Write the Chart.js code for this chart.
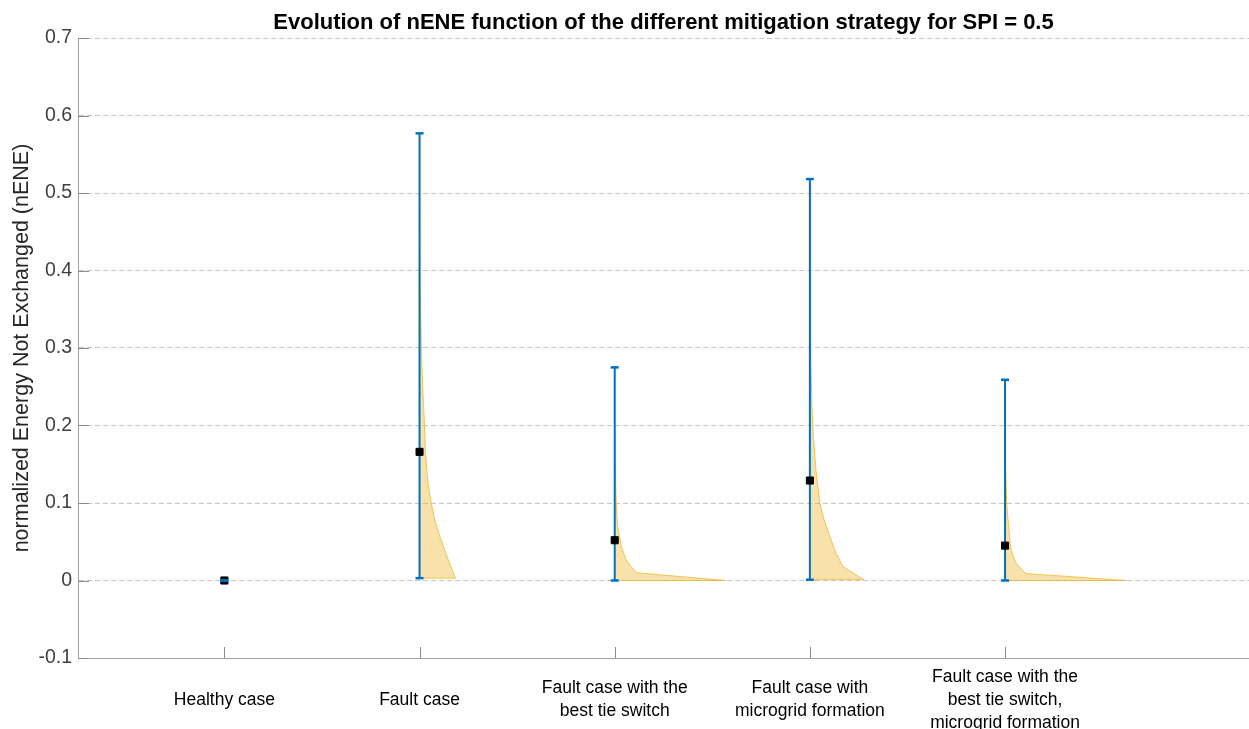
<!DOCTYPE html>
<html>
<head>
<meta charset="utf-8">
<script src="https://cdn.jsdelivr.net/npm/chart.js@4.4.0/dist/chart.umd.min.js"></script>
<style>
  html, body { margin: 0; padding: 0; background: #fff; overflow: hidden; }
  #wrap { width: 1249px; height: 729px; position: relative; }
</style>
</head>
<body>
<div id="wrap"><canvas id="nene"></canvas></div>
<script>
//---------------------DATA--------------------------------------//
const categories = [
  ['Healthy case'],
  ['Fault case'],
  ['Fault case with the', 'best tie switch'],
  ['Fault case with', 'microgrid formation'],
  ['Fault case with the', 'best tie switch,', 'microgrid formation']
];
const meanValues = [0, 0.166, 0.052, 0.129, 0.045];
const lowValues = [0, 0.003, 0, 0.001, 0];
const highValues = [0, 0.577, 0.275, 0.518, 0.259];
const yTicks = [-0.1, 0, 0.1, 0.2, 0.3, 0.4, 0.5, 0.6, 0.7];

// half violin profiles: nENE level and density half-width (in category units)
const faultLevels = [0.003, 0.03, 0.062, 0.079, 0.10, 0.121, 0.143, 0.165, 0.208, 0.25, 0.294, 0.38, 0.48, 0.577];
const faultWidths = [0.184, 0.142, 0.097, 0.077, 0.060, 0.046, 0.037, 0.031, 0.024, 0.016, 0.010, 0.003, 0.001, 0];
const tieLevels = [0, 0.010, 0.018, 0.027, 0.036, 0.044, 0.057, 0.07, 0.10, 0.15, 0.2, 0.275];
const tieWidths = [0.568, 0.113, 0.082, 0.058, 0.045, 0.035, 0.024, 0.015, 0.008, 0.003, 0.001, 0];
const microLevels = [0.001, 0.018, 0.036, 0.057, 0.079, 0.10, 0.143, 0.186, 0.23, 0.3, 0.4, 0.518];
const microWidths = [0.276, 0.169, 0.133, 0.102, 0.072, 0.051, 0.031, 0.018, 0.010, 0.004, 0.001, 0];
const bothLevels = [0, 0.009, 0.016, 0.023, 0.031, 0.04, 0.053, 0.066, 0.10, 0.15, 0.2, 0.259];
const bothWidths = [0.62, 0.107, 0.078, 0.056, 0.042, 0.031, 0.024, 0.02, 0.008, 0.003, 0.001, 0];

const violins = [
  null,
  [faultLevels, faultWidths],
  [tieLevels, tieWidths],
  [microLevels, microWidths],
  [bothLevels, bothWidths]
];

//---------------------STYLE--------------------------------------//
const FONT = "'Liberation Sans', Arial, Helvetica, sans-serif";
const BLUE = '#0072BD';
const AXIS_GRAY = '#a3a3a3';

//---------------------DATASETS--------------------------------------//
const datasets = [];

// mean markers (on top)
datasets.push({
  data: meanValues.map((v, i) => ({ x: i + 1, y: v })),
  showLine: false,
  pointStyle: 'rect',
  pointRadius: 5,
  backgroundColor: '#000',
  borderColor: '#000',
  borderWidth: 1,
  order: 0
});

// error bars
categories.forEach((c, i) => {
  datasets.push({
    data: [{ x: i + 1, y: lowValues[i] }, { x: i + 1, y: highValues[i] }],
    showLine: true,
    borderColor: BLUE,
    borderWidth: 2,
    pointStyle: 'line',
    pointRadius: 4,
    pointBorderColor: BLUE,
    pointBorderWidth: 2.5,
    order: i === 0 ? -1 : 1
  });
});

// half violins
violins.forEach((v, i) => {
  if (!v) return;
  const [levels, widths] = v;
  const pts = [{ x: i + 1, y: levels[0] }];
  levels.forEach((lv, k) => pts.push({ x: i + 1 + widths[k], y: lv }));
  pts.push({ x: i + 1, y: levels[levels.length - 1] });
  datasets.push({
    data: pts,
    showLine: true,
    fill: 'shape',
    tension: 0,
    pointRadius: 0,
    borderColor: 'rgba(237,177,32,0.7)',
    borderWidth: 1,
    backgroundColor: 'rgba(237,177,32,0.38)',
    order: 2
  });
});

//---------------------INWARD TICKS--------------------------------------//
const inwardTicks = {
  id: 'inwardTicks',
  afterDraw(chart) {
    const { ctx, chartArea, scales } = chart;
    ctx.save();
    ctx.strokeStyle = '#8c8c8c';
    ctx.lineWidth = 1;
    ctx.beginPath();
    yTicks.forEach(t => {
      const y = Math.round(scales.y.getPixelForValue(t)) + 0.5;
      ctx.moveTo(chartArea.left, y);
      ctx.lineTo(chartArea.left + 11, y);
    });
    categories.forEach((c, i) => {
      const x = Math.round(scales.x.getPixelForValue(i + 1)) + 0.5;
      ctx.moveTo(x, chartArea.bottom);
      ctx.lineTo(x, chartArea.bottom - 11);
    });
    ctx.stroke();
    ctx.restore();
  }
};

//---------------------CHART--------------------------------------//
new Chart(document.getElementById('nene'), {
  type: 'scatter',
  data: { datasets },
  plugins: [inwardTicks],
  options: {
    responsive: true,
    maintainAspectRatio: false,
    animation: false,
    layout: { autoPadding: false, padding: { left: 0, right: -2, top: 0, bottom: 0 } },
    plugins: {
      legend: { display: false },
      tooltip: { enabled: false },
      title: {
        display: true,
        fullSize: false,
        text: 'Evolution of nENE function of the different mitigation strategy for SPI = 0.5',
        color: '#000',
        font: { family: FONT, size: 22, weight: 'bold', lineHeight: 1.2 },
        padding: { top: 10, bottom: 1.6 }
      }
    },
    scales: {
      x: {
        type: 'linear',
        min: 0.25,
        max: 6.25,
        afterBuildTicks: s => { s.ticks = categories.map((c, i) => ({ value: i + 1 })); },
        afterFit: s => { s.height = 71; s.paddingLeft = 0; s.paddingRight = 0; },
        grid: { display: false, drawTicks: false },
        border: { display: true, color: AXIS_GRAY, width: 1 },
        ticks: {
          autoSkip: false,
          maxRotation: 0,
          padding: 19,
          crossAlign: 'center',
          color: '#000',
          font: { family: FONT, size: 17.5, lineHeight: 1.31 },
          callback: v => categories[Math.round(v) - 1] || ''
        }
      },
      y: {
        min: -0.1,
        max: 0.7,
        afterBuildTicks: s => { s.ticks = yTicks.map(v => ({ value: v })); },
        afterFit: s => { s.width = 78; },
        grid: {
          drawTicks: false,
          color: ctx => (ctx.tick && ctx.tick.value < -0.05) ? 'rgba(0,0,0,0)' : '#c4c4c4',
          lineWidth: 1
        },
        border: { display: true, color: AXIS_GRAY, width: 1, dash: [5, 3] },
        ticks: {
          padding: 6,
          color: '#404040',
          font: { family: FONT, size: 19.5 },
          callback: v => String(Number(v.toFixed(1)))
        },
        title: {
          display: true,
          text: 'normalized Energy Not Exchanged (nENE)',
          color: '#262626',
          font: { family: FONT, size: 21.5 },
          padding: { top: 9, bottom: 0 }
        }
      }
    }
  }
});
</script>
</body>
</html>
